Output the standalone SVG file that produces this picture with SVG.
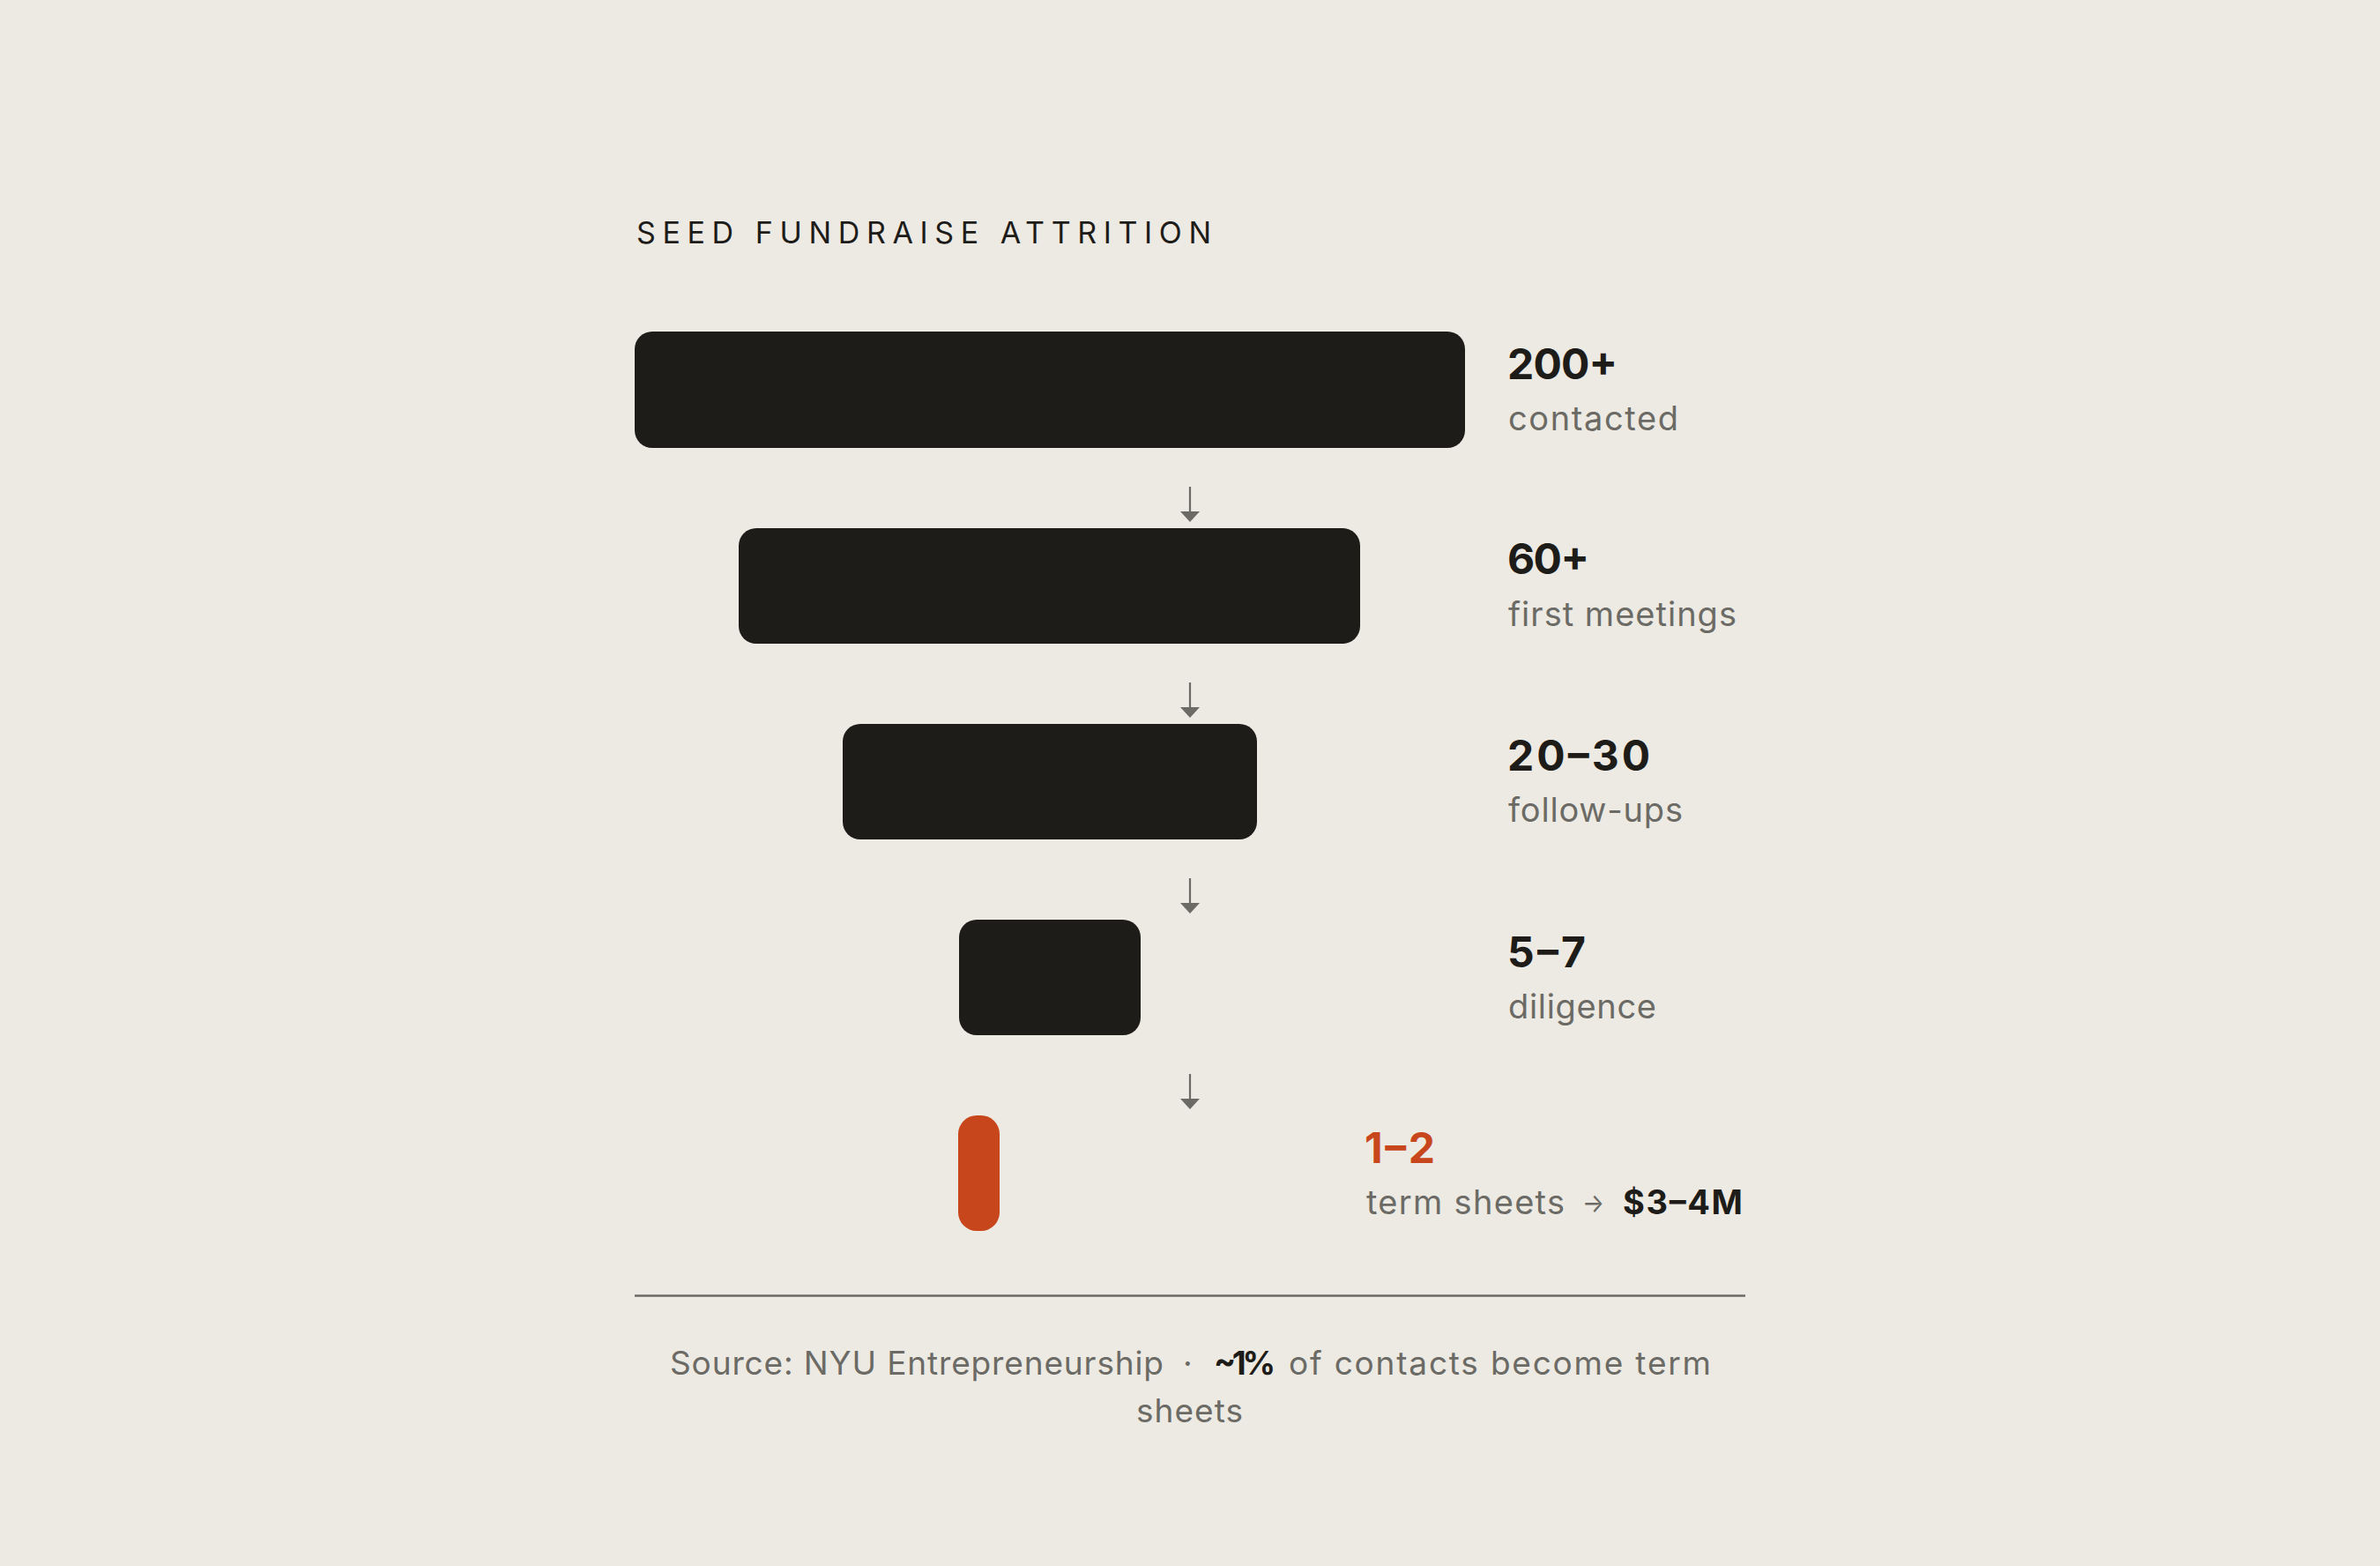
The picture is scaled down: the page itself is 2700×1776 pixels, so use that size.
<svg xmlns="http://www.w3.org/2000/svg" width="2700" height="1776" viewBox="0 0 2700 1776">
<style>
.bg{fill:#edeae4}
.bar{fill:#1d1c18}
.hot{fill:#c8461b}
.title{font-family:Inter,"Liberation Sans",sans-serif;font-size:34px;font-weight:400;fill:#1d1c18}
.num{font-family:Inter,"Liberation Sans",sans-serif;font-size:48px;font-weight:700;fill:#1d1c18}
.numhot{font-family:Inter,"Liberation Sans",sans-serif;font-size:48px;font-weight:700;fill:#c8461b}
.lbl{font-family:Inter,"Liberation Sans",sans-serif;font-size:38px;font-weight:400;fill:#6b6a65}
.lblb{font-family:Inter,"Liberation Sans",sans-serif;font-size:38px;font-weight:700;fill:#1d1c18}
.arr{font-family:Inter,"Liberation Sans",sans-serif;font-size:30px;font-weight:400;fill:#6b6a65}
.foot{font-family:Inter,"Liberation Sans",sans-serif;font-size:37px;font-weight:400;fill:#6b6a65}
.footb{font-family:Inter,"Liberation Sans",sans-serif;font-size:37px;font-weight:700;fill:#1d1c18}
.conn{stroke:#6b6a65;stroke-width:2.2;fill:none}
</style>
<defs>
<marker id="ah" viewBox="0 0 12 22" refX="0" refY="11" markerWidth="12" markerHeight="22" markerUnits="userSpaceOnUse" orient="auto">
<path d="M0,0 L12,11 L0,22 Z" fill="#6b6a65"/>
</marker>
</defs>
<rect class="bg" x="0" y="0" width="2700" height="1776"/>
<g id="title">
<text class="title" x="722" y="276" textLength="652" lengthAdjust="spacing">SEED FUNDRAISE ATTRITION</text>
</g>
<g id="connectors">
<line class="conn" x1="1350" y1="552" x2="1350" y2="580" marker-end="url(#ah)"/>
<line class="conn" x1="1350" y1="774" x2="1350" y2="802" marker-end="url(#ah)"/>
<line class="conn" x1="1350" y1="996" x2="1350" y2="1024" marker-end="url(#ah)"/>
<line class="conn" x1="1350" y1="1218" x2="1350" y2="1246" marker-end="url(#ah)"/>
</g>
<g id="stage-contacted">
<rect class="bar" x="720" y="376" width="942" height="132" rx="20"/>
<text class="num" x="1710" y="430" textLength="125" lengthAdjust="spacing">200+</text>
<text class="lbl" x="1711" y="488" textLength="193" lengthAdjust="spacing">contacted</text>
</g>
<g id="stage-meetings">
<rect class="bar" x="838" y="599" width="705" height="131" rx="20"/>
<text class="num" x="1710" y="651" textLength="93" lengthAdjust="spacing">60+</text>
<text class="lbl" x="1711" y="710" textLength="259" lengthAdjust="spacing">first meetings</text>
</g>
<g id="stage-followups">
<rect class="bar" x="956" y="821" width="470" height="131" rx="20"/>
<text class="num" x="1710" y="874" textLength="162" lengthAdjust="spacing">20–30</text>
<text class="lbl" x="1711" y="932" textLength="198" lengthAdjust="spacing">follow-ups</text>
</g>
<g id="stage-diligence">
<rect class="bar" x="1088" y="1043" width="206" height="131" rx="20"/>
<text class="num" x="1710" y="1097" textLength="89" lengthAdjust="spacing">5–7</text>
<text class="lbl" x="1711" y="1155" textLength="168" lengthAdjust="spacing">diligence</text>
</g>
<g id="stage-termsheets">
<rect class="hot" x="1087" y="1265" width="47" height="131" rx="21"/>
<text class="numhot" x="1548" y="1319" textLength="80" lengthAdjust="spacing">1–2</text>
<text class="lbl" x="1550" y="1377" textLength="225" lengthAdjust="spacing">term sheets</text>
<text class="arr" x="1795" y="1375" textLength="25" lengthAdjust="spacingAndGlyphs">→</text>
<text class="lblb" x="1841" y="1377" textLength="136" lengthAdjust="spacing">$3–4M</text>
</g>
<g id="footer">
<line x1="720" y1="1469.5" x2="1980" y2="1469.5" stroke="#6b6a65" stroke-width="2.7"/>
<text class="foot" x="760" y="1559" textLength="560" lengthAdjust="spacing">Source: NYU Entrepreneurship</text>
<text class="foot" x="1342" y="1559">·</text>
<text class="footb" x="1377" y="1559" textLength="70" lengthAdjust="spacing">~1%</text>
<text class="foot" x="1462" y="1559" textLength="479" lengthAdjust="spacing">of contacts become term</text>
<text class="foot" x="1289" y="1613" textLength="121" lengthAdjust="spacing">sheets</text>
</g>
</svg>
